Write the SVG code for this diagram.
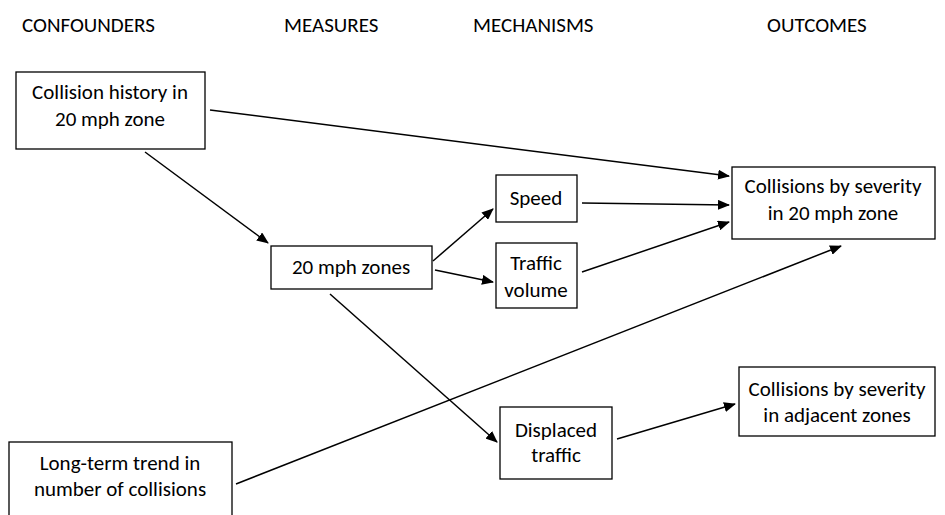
<svg xmlns="http://www.w3.org/2000/svg" width="945" height="515" viewBox="0 0 945 515">
<defs>
<marker id="ah" markerWidth="12" markerHeight="10" refX="11" refY="5" orient="auto" markerUnits="userSpaceOnUse">
<path d="M0,0 L12,5 L0,10 Z" fill="#000"/>
</marker>
<style>
.box{fill:#fff;stroke:#000;stroke-width:1.3}
.t{font-family:Carlito,"Liberation Sans",Arial,sans-serif;font-size:21px;fill:#000;text-anchor:middle}
.h{font-family:Carlito,"Liberation Sans",Arial,sans-serif;font-size:21px;fill:#000}
.c{stroke:#000;stroke-width:1.5;fill:none;marker-end:url(#ah)}
</style>
</defs>
<rect width="945" height="515" fill="#fff"/>
<g id="headers">
<text class="h" x="22" y="32">CONFOUNDERS</text>
<text class="h" x="284" y="32">MEASURES</text>
<text class="h" x="473" y="32">MECHANISMS</text>
<text class="h" x="767" y="32">OUTCOMES</text>
</g>
<g id="connectors">
<line class="c" x1="210" y1="110" x2="729" y2="176"/>
<line class="c" x1="145" y1="152" x2="268" y2="243"/>
<line class="c" x1="433" y1="261" x2="493" y2="209"/>
<line class="c" x1="435" y1="270" x2="493" y2="282"/>
<line class="c" x1="582" y1="203" x2="729" y2="205"/>
<line class="c" x1="582" y1="272" x2="729" y2="222"/>
<line class="c" x1="330" y1="294" x2="497" y2="442"/>
<line class="c" x1="236" y1="484" x2="841" y2="246"/>
<line class="c" x1="617" y1="439" x2="735" y2="404"/>
</g>
<g id="collision-history">
<rect class="box" x="16" y="72" width="189" height="77"/>
<text class="t" x="110" y="99">Collision history in</text>
<text class="t" x="110" y="126">20 mph zone</text>
</g>
<g id="zones-20mph">
<rect class="box" x="271" y="246" width="161" height="43"/>
<text class="t" x="351" y="274">20 mph zones</text>
</g>
<g id="speed">
<rect class="box" x="496" y="175" width="81" height="47"/>
<text class="t" x="536" y="205">Speed</text>
</g>
<g id="traffic-volume">
<rect class="box" x="496" y="243" width="81" height="65"/>
<text class="t" x="536" y="270">Traffic</text>
<text class="t" x="536" y="297">volume</text>
</g>
<g id="collisions-20mph">
<rect class="box" x="732" y="167" width="203" height="72"/>
<text class="t" x="833" y="193">Collisions by severity</text>
<text class="t" x="833" y="220">in 20 mph zone</text>
</g>
<g id="displaced-traffic">
<rect class="box" x="500" y="407" width="112" height="72"/>
<text class="t" x="556" y="437">Displaced</text>
<text class="t" x="556" y="462">traffic</text>
</g>
<g id="collisions-adjacent">
<rect class="box" x="739" y="367" width="196" height="69"/>
<text class="t" x="837" y="396">Collisions by severity</text>
<text class="t" x="837" y="422">in adjacent zones</text>
</g>
<g id="long-term-trend">
<rect class="box" x="9" y="442" width="223" height="90"/>
<text class="t" x="120" y="470">Long-term trend in</text>
<text class="t" x="120" y="496">number of collisions</text>
</g>
</svg>
